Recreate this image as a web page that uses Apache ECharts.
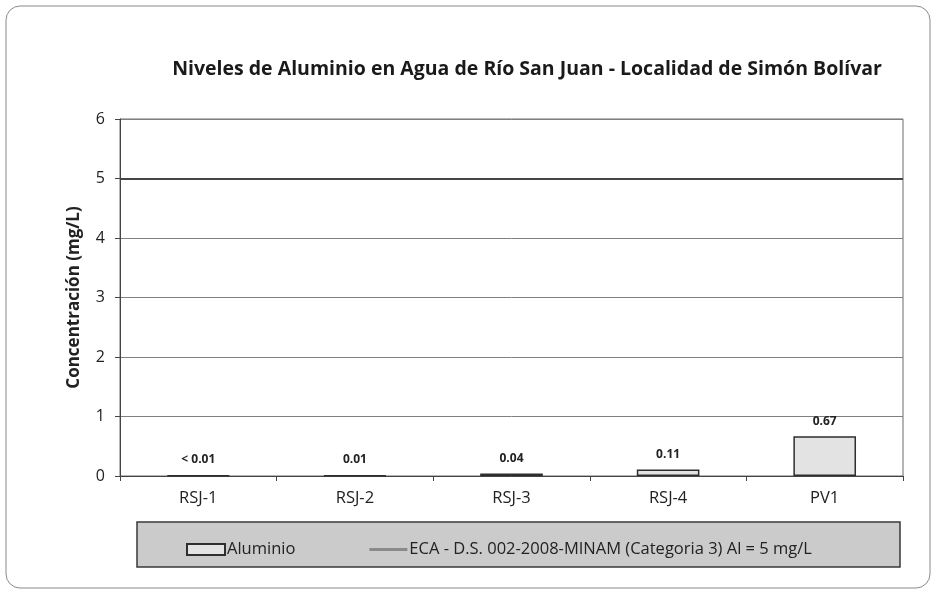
<!DOCTYPE html>
<html>
<head>
<meta charset="utf-8">
<script src="https://cdn.jsdelivr.net/npm/echarts@6/dist/echarts.min.js"></script>
<style>
  html, body { margin: 0; padding: 0; background: #ffffff; }
  #chart { width: 936px; height: 594px; }
</style>
</head>
<body>
<div id="chart"></div>
<script>
// Sampling points along the river and measured aluminium concentrations (mg/L)
const categories = ['RSJ-1', 'RSJ-2', 'RSJ-3', 'RSJ-4', 'PV1'];
const aluminio = [0.01, 0.01, 0.04, 0.11, 0.67];
// Points reported below the detection limit
const belowLimit = [true, false, false, false, false];
// Environmental quality standard (ECA) for category 3
const ecaLimit = 5;
const yTicks = [0, 1, 2, 3, 4, 5, 6];

const font = '"Open Sans", Lato, sans-serif';
const ecaName = 'ECA - D.S. 002-2008-MINAM (Categoria 3) Al = 5 mg/L';
const chart = echarts.init(document.getElementById('chart'));

chart.setOption({
  backgroundColor: '#ffffff',
  animation: false,
  textStyle: { fontFamily: font },
  title: {
    text: 'Niveles de Aluminio en Agua de Río San Juan - Localidad de Simón Bolívar',
    left: 522,
    top: 54,
    textAlign: 'center',
    textStyle: { fontFamily: font, fontSize: 19.5, fontWeight: 'bold', color: '#1a1a1a' }
  },
  graphic: [
    {
      type: 'rect',
      z: -10,
      shape: { x: 6, y: 6, width: 924, height: 582, r: 14 },
      style: { fill: '#ffffff', stroke: '#8a8a8a', lineWidth: 1 }
    },
    {
      type: 'rect',
      z: -5,
      shape: { x: 137, y: 522, width: 763, height: 45 },
      style: { fill: '#cbcbcb', stroke: '#3a3a3a', lineWidth: 1.5 }
    }
  ],
  grid: {
    left: 120, right: 33, top: 119, bottom: 118,
    show: true, borderColor: '#6a6a6a', borderWidth: 1
  },
  legend: {
    left: 181,
    top: 536,
    itemGap: 74,
    itemWidth: 38,
    itemHeight: 11,
    textStyle: { fontFamily: font, fontSize: 16.5, color: '#222', padding: [0, 0, 0, -3] },
    data: [
      { name: 'Aluminio', icon: 'rect' },
      { name: ecaName, icon: 'path://M0,0H40V3H0Z' }
    ]
  },
  xAxis: {
    type: 'category',
    data: categories,
    axisLine: { lineStyle: { color: '#444', width: 1 } },
    axisTick: { show: true, length: 5, lineStyle: { color: '#444' } },
    axisLabel: { fontFamily: font, fontSize: 16.5, color: '#222', margin: 14 }
  },
  yAxis: {
    type: 'value',
    min: 0, max: 6, interval: 1,
    name: 'Concentración (mg/L)',
    nameLocation: 'middle',
    nameGap: 37,
    nameTextStyle: { fontFamily: font, fontSize: 17, fontWeight: 'bold', color: '#222' },
    axisLine: { show: true, lineStyle: { color: '#444' } },
    axisTick: { show: true, length: 5, lineStyle: { color: '#444' } },
    axisLabel: {
      fontFamily: font, fontSize: 16, color: '#222', margin: 15,
      formatter: v => yTicks.includes(v) ? String(v) : ''
    },
    splitLine: { lineStyle: { color: '#808080', width: 1 } }
  },
  series: [
    {
      name: 'Aluminio',
      type: 'bar',
      data: aluminio,
      barWidth: '40%',
      itemStyle: { color: '#e3e3e3', borderColor: '#2e2e2e', borderWidth: 1.5 },
      label: {
        show: true,
        position: 'top',
        distance: 9,
        fontFamily: font,
        fontSize: 12,
        fontWeight: 'bold',
        color: '#222',
        formatter: p => (belowLimit[p.dataIndex] ? '< ' : '') + p.value.toFixed(2)
      }
    },
    {
      name: ecaName,
      type: 'line',
      data: [],
      symbol: 'none',
      itemStyle: { color: '#8a8a8a' },
      lineStyle: { color: '#8a8a8a', width: 3 },
      markLine: {
        symbol: 'none',
        silent: true,
        label: { show: false },
        lineStyle: { color: '#454545', width: 2, type: 'solid' },
        data: [{ yAxis: ecaLimit }]
      }
    }
  ]
});
</script>
</body>
</html>
